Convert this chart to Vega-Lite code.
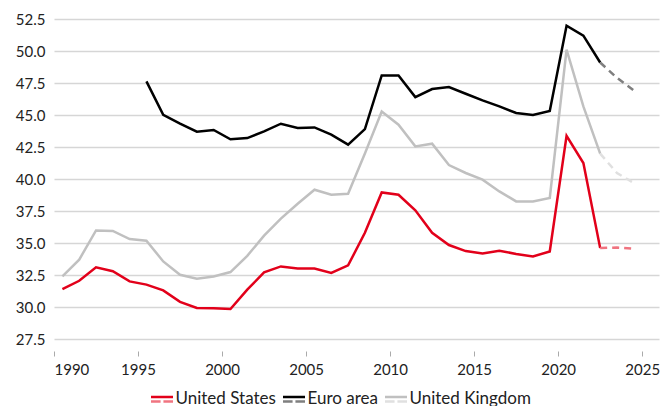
{
  "$schema": "https://vega.github.io/schema/vega-lite/v6.json",
  "width": 605,
  "height": 320,
  "autosize": {"type": "none"},
  "padding": {"left": 54, "top": 19, "right": 2, "bottom": 67},
  "background": "white",
  "config": {
    "view": {"stroke": null},
    "font": "Lato",
    "axis": {"labelFont": "Lato", "labelColor": "#222222", "labelFontSize": 15, "title": null, "labelOverlap": false}
  },
  "datasets": {
    "actual": [
      {"year": 1990.5, "value": 32.4, "series": "United Kingdom"},
      {"year": 1991.5, "value": 33.7, "series": "United Kingdom"},
      {"year": 1992.5, "value": 35.98, "series": "United Kingdom"},
      {"year": 1993.5, "value": 35.94, "series": "United Kingdom"},
      {"year": 1994.5, "value": 35.31, "series": "United Kingdom"},
      {"year": 1995.5, "value": 35.18, "series": "United Kingdom"},
      {"year": 1996.5, "value": 33.56, "series": "United Kingdom"},
      {"year": 1997.5, "value": 32.52, "series": "United Kingdom"},
      {"year": 1998.5, "value": 32.21, "series": "United Kingdom"},
      {"year": 1999.5, "value": 32.39, "series": "United Kingdom"},
      {"year": 2000.5, "value": 32.73, "series": "United Kingdom"},
      {"year": 2001.5, "value": 34.0, "series": "United Kingdom"},
      {"year": 2002.5, "value": 35.57, "series": "United Kingdom"},
      {"year": 2003.5, "value": 36.9, "series": "United Kingdom"},
      {"year": 2004.5, "value": 38.07, "series": "United Kingdom"},
      {"year": 2005.5, "value": 39.16, "series": "United Kingdom"},
      {"year": 2006.5, "value": 38.77, "series": "United Kingdom"},
      {"year": 2007.5, "value": 38.85, "series": "United Kingdom"},
      {"year": 2008.5, "value": 42.0, "series": "United Kingdom"},
      {"year": 2009.5, "value": 45.28, "series": "United Kingdom"},
      {"year": 2010.5, "value": 44.24, "series": "United Kingdom"},
      {"year": 2011.5, "value": 42.55, "series": "United Kingdom"},
      {"year": 2012.5, "value": 42.76, "series": "United Kingdom"},
      {"year": 2013.5, "value": 41.09, "series": "United Kingdom"},
      {"year": 2014.5, "value": 40.47, "series": "United Kingdom"},
      {"year": 2015.5, "value": 39.95, "series": "United Kingdom"},
      {"year": 2016.5, "value": 39.03, "series": "United Kingdom"},
      {"year": 2017.5, "value": 38.25, "series": "United Kingdom"},
      {"year": 2018.5, "value": 38.25, "series": "United Kingdom"},
      {"year": 2019.5, "value": 38.52, "series": "United Kingdom"},
      {"year": 2020.5, "value": 50.1, "series": "United Kingdom"},
      {"year": 2021.5, "value": 45.67, "series": "United Kingdom"},
      {"year": 2022.5, "value": 41.98, "series": "United Kingdom"},
      {"year": 1995.5, "value": 47.63, "series": "Euro area"},
      {"year": 1996.5, "value": 45.02, "series": "Euro area"},
      {"year": 1997.5, "value": 44.32, "series": "Euro area"},
      {"year": 1998.5, "value": 43.7, "series": "Euro area"},
      {"year": 1999.5, "value": 43.83, "series": "Euro area"},
      {"year": 2000.5, "value": 43.1, "series": "Euro area"},
      {"year": 2001.5, "value": 43.2, "series": "Euro area"},
      {"year": 2002.5, "value": 43.72, "series": "Euro area"},
      {"year": 2003.5, "value": 44.32, "series": "Euro area"},
      {"year": 2004.5, "value": 43.98, "series": "Euro area"},
      {"year": 2005.5, "value": 44.03, "series": "Euro area"},
      {"year": 2006.5, "value": 43.46, "series": "Euro area"},
      {"year": 2007.5, "value": 42.68, "series": "Euro area"},
      {"year": 2008.5, "value": 43.9, "series": "Euro area"},
      {"year": 2009.5, "value": 48.09, "series": "Euro area"},
      {"year": 2010.5, "value": 48.09, "series": "Euro area"},
      {"year": 2011.5, "value": 46.4, "series": "Euro area"},
      {"year": 2012.5, "value": 47.03, "series": "Euro area"},
      {"year": 2013.5, "value": 47.19, "series": "Euro area"},
      {"year": 2014.5, "value": 46.66, "series": "Euro area"},
      {"year": 2015.5, "value": 46.14, "series": "Euro area"},
      {"year": 2016.5, "value": 45.67, "series": "Euro area"},
      {"year": 2017.5, "value": 45.16, "series": "Euro area"},
      {"year": 2018.5, "value": 45.0, "series": "Euro area"},
      {"year": 2019.5, "value": 45.31, "series": "Euro area"},
      {"year": 2020.5, "value": 51.98, "series": "Euro area"},
      {"year": 2021.5, "value": 51.2, "series": "Euro area"},
      {"year": 2022.5, "value": 49.1, "series": "Euro area"},
      {"year": 1990.5, "value": 31.4, "series": "United States"},
      {"year": 1991.5, "value": 32.05, "series": "United States"},
      {"year": 1992.5, "value": 33.1, "series": "United States"},
      {"year": 1993.5, "value": 32.8, "series": "United States"},
      {"year": 1994.5, "value": 32.0, "series": "United States"},
      {"year": 1995.5, "value": 31.75, "series": "United States"},
      {"year": 1996.5, "value": 31.3, "series": "United States"},
      {"year": 1997.5, "value": 30.4, "series": "United States"},
      {"year": 1998.5, "value": 29.92, "series": "United States"},
      {"year": 1999.5, "value": 29.9, "series": "United States"},
      {"year": 2000.5, "value": 29.84, "series": "United States"},
      {"year": 2001.5, "value": 31.35, "series": "United States"},
      {"year": 2002.5, "value": 32.7, "series": "United States"},
      {"year": 2003.5, "value": 33.17, "series": "United States"},
      {"year": 2004.5, "value": 33.0, "series": "United States"},
      {"year": 2005.5, "value": 33.0, "series": "United States"},
      {"year": 2006.5, "value": 32.66, "series": "United States"},
      {"year": 2007.5, "value": 33.25, "series": "United States"},
      {"year": 2008.5, "value": 35.8, "series": "United States"},
      {"year": 2009.5, "value": 38.95, "series": "United States"},
      {"year": 2010.5, "value": 38.77, "series": "United States"},
      {"year": 2011.5, "value": 37.55, "series": "United States"},
      {"year": 2012.5, "value": 35.8, "series": "United States"},
      {"year": 2013.5, "value": 34.84, "series": "United States"},
      {"year": 2014.5, "value": 34.37, "series": "United States"},
      {"year": 2015.5, "value": 34.19, "series": "United States"},
      {"year": 2016.5, "value": 34.4, "series": "United States"},
      {"year": 2017.5, "value": 34.14, "series": "United States"},
      {"year": 2018.5, "value": 33.95, "series": "United States"},
      {"year": 2019.5, "value": 34.34, "series": "United States"},
      {"year": 2020.5, "value": 43.38, "series": "United States"},
      {"year": 2021.5, "value": 41.25, "series": "United States"},
      {"year": 2022.5, "value": 34.6, "series": "United States"}
    ],
    "projection": [
      {"year": 2022.5, "value": 41.98, "region": "United Kingdom"},
      {"year": 2023.5, "value": 40.47, "region": "United Kingdom"},
      {"year": 2024.5, "value": 39.69, "region": "United Kingdom"},
      {"year": 2022.5, "value": 49.1, "region": "Euro area"},
      {"year": 2023.5, "value": 47.9, "region": "Euro area"},
      {"year": 2024.5, "value": 46.92, "region": "Euro area"},
      {"year": 2022.5, "value": 34.6, "region": "United States"},
      {"year": 2023.5, "value": 34.65, "region": "United States"},
      {"year": 2024.5, "value": 34.55, "region": "United States"}
    ]
  },
  "encoding": {
    "x": {
      "field": "year", "type": "quantitative",
      "scale": {"domain": [1990, 2026], "nice": false, "zero": false},
      "axis": {"values": [1990, 1995, 2000, 2005, 2010, 2015, 2020, 2025], "format": "d", "domain": false, "grid": false, "ticks": true, "tickSize": 5, "tickColor": "#aaaaaa", "tickWidth": 1, "offset": 12, "labelPadding": 6, "labelOverlap": false}
    },
    "y": {
      "field": "value", "type": "quantitative",
      "scale": {"domain": [27.5, 52.5], "nice": false, "zero": false},
      "axis": {"values": [27.5, 30, 32.5, 35, 37.5, 40, 42.5, 45, 47.5, 50, 52.5], "format": ".1f", "domain": false, "ticks": false, "grid": true, "gridColor": "#d6d6d6", "gridWidth": 1.5, "labelPadding": 9, "labelOverlap": false, "labelBound": false, "labelSeparation": 0}
    }
  },
  "layer": [
    {
      "data": {"name": "actual"},
      "mark": {"type": "line", "strokeWidth": 2.5},
      "encoding": {
        "color": {
          "field": "series", "type": "nominal",
          "sort": ["United States", "Euro area", "United Kingdom"],
          "scale": {"range": ["#e2001a", "#000000", "#c0c0c0"]},
          "legend": {
            "title": null, "orient": "none", "legendX": 95.5, "legendY": 367.5, "direction": "horizontal",
            "symbolType": "M-1,-0.21H1", "symbolSize": 484, "symbolStrokeWidth": 2.4, "symbolDash": [1, 0],
            "labelFont": "Lato", "labelFontSize": 17, "labelColor": "#222222", "labelOffset": 1, "columnPadding": 1, "padding": 0
          }
        }
      }
    },
    {
      "data": {"name": "projection"},
      "mark": {"type": "line", "strokeWidth": 2.5, "strokeDash": [7, 5]},
      "encoding": {
        "stroke": {
          "field": "region", "type": "nominal",
          "sort": ["United States", "Euro area", "United Kingdom"],
          "scale": {"range": ["#f07480", "#7f7f7f", "#e0e0e0"]},
          "legend": {
            "title": null, "orient": "none", "legendX": 95.5, "legendY": 367.5, "direction": "horizontal",
            "symbolType": "M-1,0.21H-0.13M0.13,0.21H1", "symbolSize": 484, "symbolStrokeWidth": 2.4, "symbolDash": [1, 0],
            "labelFont": "Lato", "labelFontSize": 17, "labelColor": "#222222", "labelOpacity": 0, "labelOffset": 1, "columnPadding": 1, "padding": 0
          }
        }
      }
    }
  ]
}
